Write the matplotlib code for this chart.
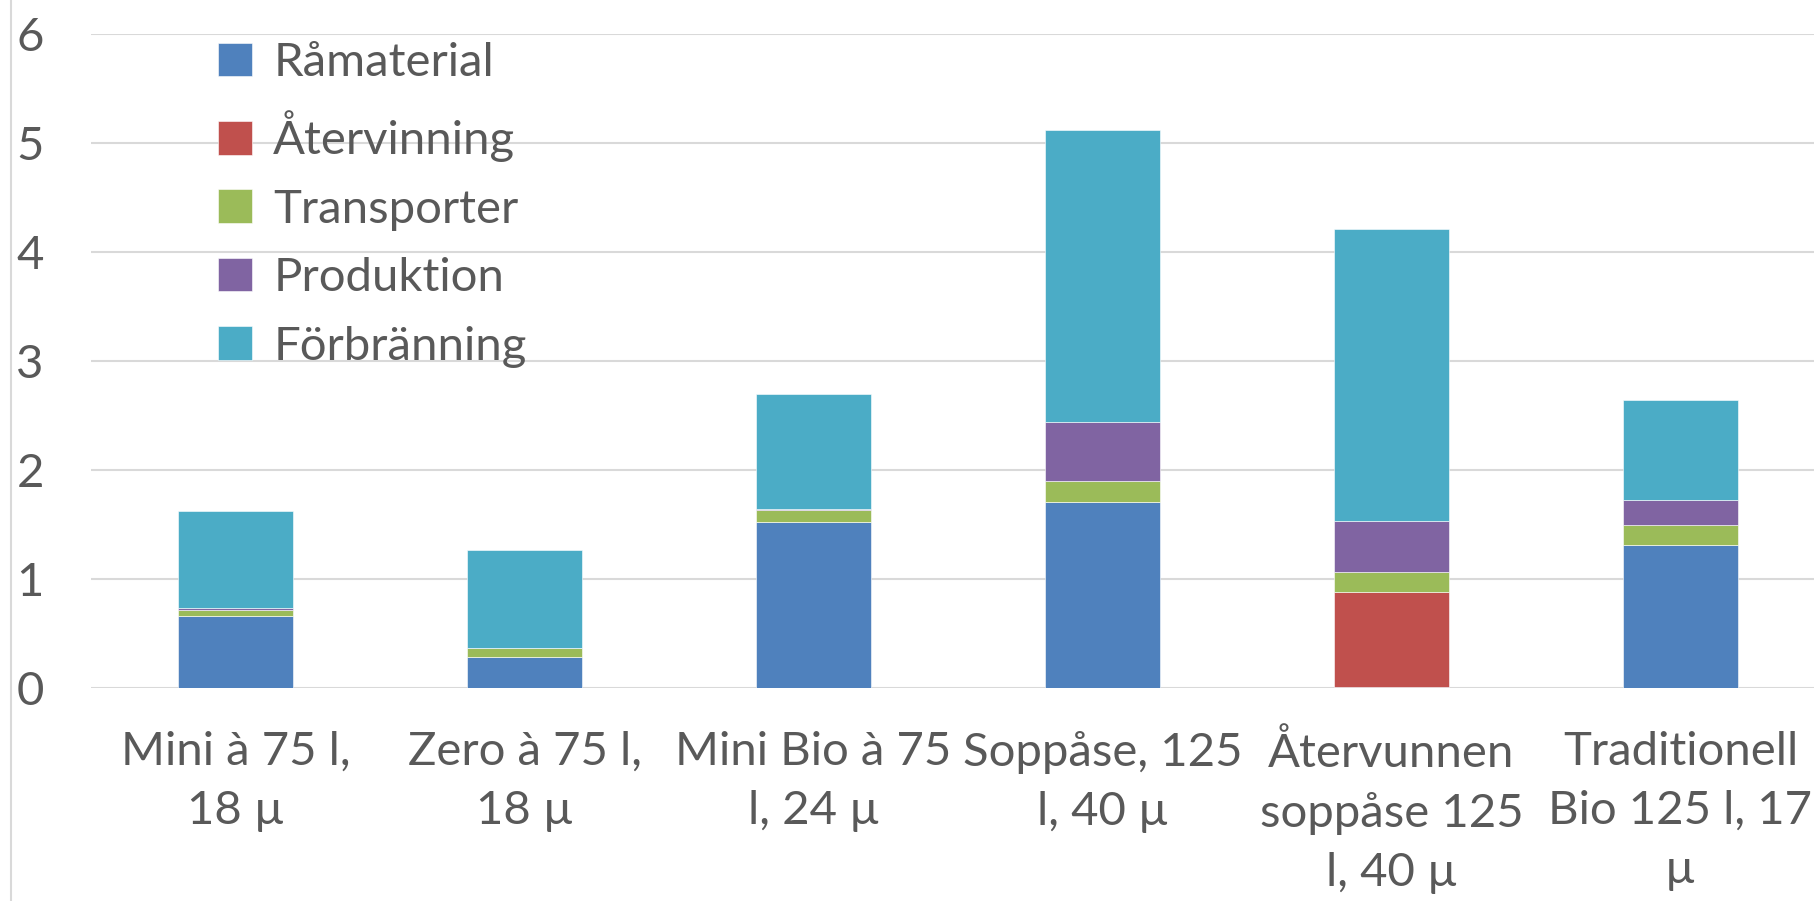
import matplotlib
matplotlib.use('Agg')
import matplotlib.pyplot as plt
from matplotlib.lines import Line2D
import numpy as np

plt.rcParams['font.family'] = ['Lato', 'DejaVu Sans']

kategorier = ['Mini à 75 l,\n18 µ', 'Zero à 75 l,\n18 µ', 'Mini Bio à 75\nl, 24 µ',
              'Soppåse, 125\nl, 40 µ', 'Återvunnen\nsoppåse 125\nl, 40 µ',
              'Traditionell\nBio 125 l, 17\nµ']

serier = ['Råmaterial', 'Återvinning', 'Transporter', 'Produktion', 'Förbränning']
ramaterial = [0.66, 0.28, 1.52, 1.71, 0.01, 1.31]
atervinning = [0, 0, 0, 0, 0.87, 0]
transporter = [0.06, 0.09, 0.11, 0.19, 0.185, 0.185]
produktion = [0.01, 0, 0.01, 0.54, 0.47, 0.23]
forbranning = [0.895, 0.9, 1.06, 2.68, 2.68, 0.92]
farger = ['#4F81BD', '#C0504D', '#9BBB59', '#8064A2', '#4BACC6']

textfarg = '#595959'

fig = plt.figure(figsize=(18.14, 9.01), dpi=100)
ax = fig.add_axes([91 / 1814, 213 / 901, 1734 / 1814, 654 / 901])

x = np.arange(len(kategorier))
botten = np.zeros(len(kategorier))
for namn, varden, farg in zip(serier, [ramaterial, atervinning, transporter, produktion, forbranning], farger):
    ax.bar(x, varden, 0.4, bottom=botten, color=farg, label=namn,
           edgecolor='white', linewidth=0.4, zorder=3)
    botten = botten + np.array(varden)

ax.set_xlim(-0.5, 5.5)
ax.set_ylim(0, 6)
ax.set_yticks(range(7))
ax.set_xticks(x)
ax.set_xticklabels(kategorier, fontsize=34, color=textfarg, linespacing=1.5)
ax.tick_params(axis='y', labelsize=34, labelcolor=textfarg, length=0, pad=34)
ax.tick_params(axis='x', length=0, pad=31)
ax.grid(axis='y', color='#D9D9D9', linewidth=1.5, zorder=0)
for s in ax.spines.values():
    s.set_visible(False)

# grå ram till vänster
fig.add_artist(Line2D([11 / 1814, 11 / 1814], [0, 1], color='#D9D9D9', linewidth=1.5))

leg = ax.legend(loc='upper left', bbox_to_anchor=(199 / 1814, 1 - 23 / 901),
                bbox_transform=fig.transFigure, frameon=False, fontsize=34,
                handlelength=0.72, handleheight=0.72, handletextpad=0.45,
                labelspacing=0.56, borderaxespad=0)
for t in leg.get_texts():
    t.set_color(textfarg)

fig.savefig('out.png', dpi=100)
